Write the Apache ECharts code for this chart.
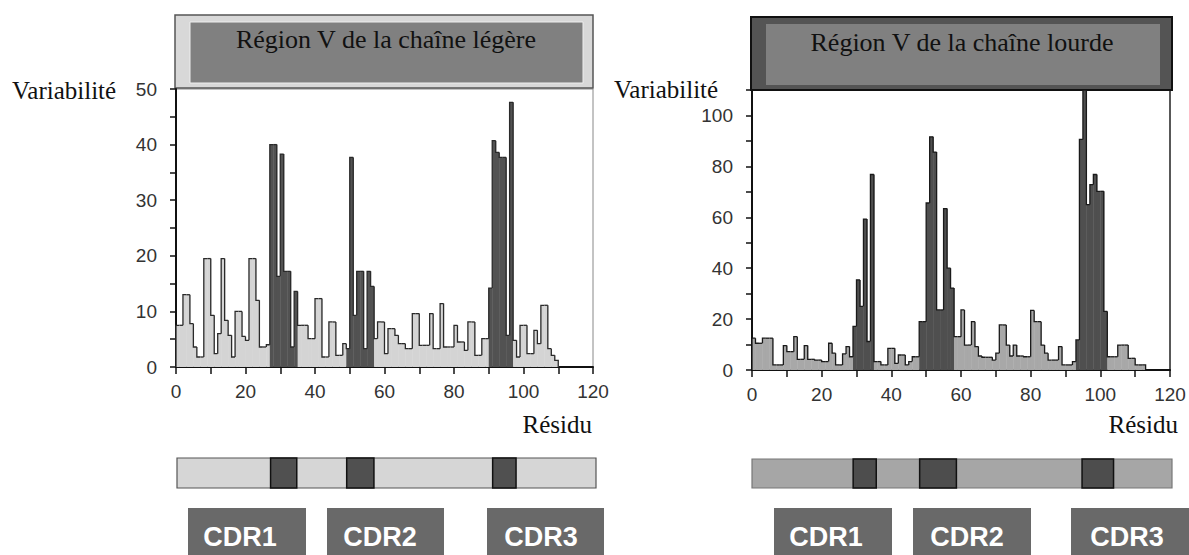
<!DOCTYPE html>
<html><head><meta charset="utf-8">
<script src="https://cdn.jsdelivr.net/npm/echarts@6/dist/echarts.min.js"></script>
<style>html,body{margin:0;padding:0;background:#fff}#c{width:1189px;height:555px}</style>
</head><body><div id="c"></div>
<script>
// ---------- DATA ----------
// Variability per residue (residue i covers axis interval [i, i+1])
const lightChainVariability = [
  7.5,7.5,13,13,7.8,3.6,1.8,1.8,19.5,19.5,
  9.3,2.4,6,19.5,8.4,5.7,1.8,10,10,5.5,
  4.8,19.5,19.5,12,3.6,3.6,4,40,40,16.3,
  38.3,17.2,17.2,3.6,13.6,7.5,7.5,7.5,5.1,5.1,
  12.3,12.3,1.8,1.8,8.1,8.1,2.1,2.1,4.2,3.3,
  37.7,9.3,17.2,17.2,3.3,17.2,14.5,5.1,8.1,8.1,
  2.4,6.9,6.9,5.7,4.2,4.2,3.3,3.3,9.6,9.6,
  3.9,3.9,3.9,9.6,3.3,3.3,11.4,3.6,3.6,3.6,
  7.5,4.5,4.5,3,8.1,8.1,2.1,2.1,5.1,5.1,
  14.2,40.7,38.6,37.7,37.7,5.7,47.6,4.8,1.8,7.5,
  7.5,2.4,2.4,6.6,4.2,11.1,11.1,3.3,2.1,1.2
];
const heavyChainVariability = [
  12.5,10.5,10.5,12.5,12.5,12.5,2,2,2,9.6,
  7.2,7.2,13.1,4.2,4.2,9.6,4.2,4.2,3.9,3.9,
  3.3,3.3,10.5,6.6,2,2,6.3,9.2,5.2,17.1,
  35.4,25,59.3,11.2,76.8,3.3,3.3,2,2,8.5,
  8.5,2.6,5.9,5.9,2,3.3,5.2,5.2,19,19,
  65.6,91.6,85.6,23.6,23.6,63.4,40,32.2,13.1,13.1,
  23.6,9.8,9.8,19,9.2,5.5,5,5,5,3.9,
  6.6,17.7,17.7,9.8,5.5,9.8,5.5,5.5,5.2,5.2,
  23.4,19,19,9.8,6.6,3.9,3.9,3.9,9.2,2,
  2,2,3.3,11.8,90.6,110,65,72.8,76.8,70.2,
  70.2,23,5.2,5.2,5.2,9.8,9.8,9.8,4.6,4.6,
  2,2,2
];
// CDR spans on the residue axis (start, end)
const lightChainCdrRanges = [[27,35],[49,57],[90,97]];
const heavyChainCdrRanges = [[29,35],[48,58],[93,102]];
// CDR spans on the schematic strips below the charts
const lightStripCdrRanges = [[26.8,34.3],[48.6,56.4],[90.4,97.1]];
const heavyStripCdrRanges = [[28.9,35.5],[47.9,58.4],[94.3,103.3]];
const cdrLabels = ['CDR1','CDR2','CDR3'];
const titles = ['Région V de la chaîne légère','Région V de la chaîne lourde'];
const yAxisName = 'Variabilité';
const xAxisName = 'Résidu';

// ---------- CHART ----------
const chart = echarts.init(document.getElementById('c'), null, {renderer:'svg'});
const SERIF = "'Liberation Serif','Times New Roman',serif";
const SANS = "'Liberation Sans',Arial,sans-serif";

function histogramData(values, ranges) {
  return values.map((v, i) => [i, v, i > 0 ? values[i-1] : 0,
    ranges.some(r => i >= r[0] && i < r[1]) ? 1 : 0, i === values.length - 1 ? 1 : 0]);
}
function histogramRender(lightFill, darkFill, lineColor) {
  return function (params, api) {
    const x = api.value(0), v = api.value(1), pv = api.value(2), dark = api.value(3), last = api.value(4);
    const base = api.coord([x, 0]);
    const top = api.coord([x + 1, v]);
    const prev = api.coord([x, pv]);
    const pts = [[base[0], prev[1]], [base[0], top[1]], [top[0], top[1]]];
    if (last) pts.push([top[0], base[1]]);
    return {type:'group', children:[
      {type:'rect', shape:{x:base[0], y:top[1], width:top[0]-base[0]+0.4, height:base[1]-top[1]},
       style:{fill: dark ? darkFill : lightFill}},
      {type:'polyline', shape:{points:pts}, style:{stroke:lineColor, lineWidth:1.3, fill:'none'}}
    ]};
  };
}
function stripData(ranges) {
  return [[0, 120, 0]].concat(ranges.map(r => [r[0], r[1], 1]));
}
function stripRender(baseFill, baseStroke, darkFill) {
  return function (params, api) {
    const a = api.coord([api.value(0), 1]);
    const b = api.coord([api.value(1), 0]);
    const dark = api.value(2);
    return {type:'rect', shape:{x:a[0], y:a[1], width:b[0]-a[0], height:b[1]-a[1]},
      style:{fill: dark ? darkFill : baseFill, stroke: dark ? '#111' : baseStroke, lineWidth: dark ? 1.5 : 1.2}};
  };
}

const tickLabel = {color:'#333', fontSize:19, fontFamily:SANS};
function xAxisCfg(gi) {
  return {type:'value', gridIndex:gi, min:0, max:120, interval:10,
    axisLine:{show:true, onZero:false, lineStyle:{color:'#111', width:2}},
    axisTick:{show:true, length:7, lineStyle:{color:'#111', width:1.5}},
    axisLabel:Object.assign({margin:15, formatter:v => (v % 20 === 0 ? String(v) : '')}, tickLabel),
    splitLine:{show:false}};
}
function yAxisCfg(gi, max, step, labelStep) {
  return {type:'value', gridIndex:gi, min:0, max:max, interval:step,
    axisLine:{show:true, lineStyle:{color:'#111', width:2}},
    axisTick:{show:true, length:6, lineStyle:{color:'#111', width:1.5}},
    axisLabel:Object.assign({margin:19, showMaxLabel:true, formatter:v => (v % labelStep === 0 ? String(v) : '')}, tickLabel),
    splitLine:{show:false}};
}
function hiddenAxis(type, gi, min, max) {
  return {type:type, gridIndex:gi, min:min, max:max, show:false};
}

function cdrBox(x, w, tx, label) {
  return {type:'group', children:[
    {type:'rect', shape:{x:x, y:508, width:w, height:52}, style:{fill:'#696969'}},
    {type:'text', x:tx, y:537, style:{text:label, fill:'#fff', font:"bold 27px " + SANS,
      textAlign:'center', textVerticalAlign:'middle'}}
  ]};
}

chart.setOption({
  animation:false,
  backgroundColor:'#fff',
  grid:[
    {left:176, right:596, top:89, bottom:188, show:true, borderColor:'#888', borderWidth:1, backgroundColor:'transparent'},
    {left:752, right:19, top:90, bottom:185, show:true, borderColor:'#222', borderWidth:1.5, backgroundColor:'transparent'},
    {left:177, right:593, top:458, height:30},
    {left:752, right:17, top:459, height:29}
  ],
  xAxis:[xAxisCfg(0), xAxisCfg(1), hiddenAxis('value',2,0,120), hiddenAxis('value',3,0,120)],
  yAxis:[yAxisCfg(0, 50, 5, 10), yAxisCfg(1, 110, 10, 20), hiddenAxis('value',2,0,1), hiddenAxis('value',3,0,1)],
  series:[
    {type:'custom', name:'light', xAxisIndex:0, yAxisIndex:0, silent:true,
     encode:{x:0, y:1}, data:histogramData(lightChainVariability, lightChainCdrRanges),
     renderItem:histogramRender('#d4d4d4', '#525252', '#2a2a2a')},
    {type:'custom', name:'heavy', xAxisIndex:1, yAxisIndex:1, silent:true, clip:true,
     encode:{x:0, y:1}, data:histogramData(heavyChainVariability, heavyChainCdrRanges),
     renderItem:histogramRender('#a8a8a8', '#4f4f4f', '#1a1a1a')},
    {type:'custom', name:'lightStrip', xAxisIndex:2, yAxisIndex:2, silent:true,
     encode:{x:[0,1], y:2}, data:stripData(lightStripCdrRanges),
     renderItem:stripRender('#d6d6d6', '#555', '#505050')},
    {type:'custom', name:'heavyStrip', xAxisIndex:3, yAxisIndex:3, silent:true,
     encode:{x:[0,1], y:2}, data:stripData(heavyStripCdrRanges),
     renderItem:stripRender('#a6a6a6', '#777', '#4d4d4d')}
  ],
  graphic:[
    // left title box
    {type:'rect', shape:{x:175, y:15, width:418, height:73}, style:{fill:'#d8d8d8', stroke:'#555', lineWidth:1.5}},
    {type:'rect', shape:{x:190, y:22, width:393, height:61}, style:{fill:'#808080', stroke:'#eeeeee', lineWidth:1}},
    {type:'text', x:386, y:39, style:{text:titles[0], fill:'#111', font:"26px " + SERIF, textAlign:'center', textVerticalAlign:'middle'}},
    // right title box
    {type:'rect', shape:{x:751, y:17, width:421, height:73}, style:{fill:'#545454', stroke:'#111', lineWidth:2}},
    {type:'rect', shape:{x:766, y:24, width:394, height:61}, style:{fill:'#808080'}},
    {type:'text', x:962, y:42, style:{text:titles[1], fill:'#111', font:"26px " + SERIF, textAlign:'center', textVerticalAlign:'middle'}},
    // axis names
    {type:'text', x:12, y:90, style:{text:yAxisName, fill:'#111', font:"25px " + SERIF, textAlign:'left', textVerticalAlign:'middle'}},
    {type:'text', x:614, y:89, style:{text:yAxisName, fill:'#111', font:"25px " + SERIF, textAlign:'left', textVerticalAlign:'middle'}},
    {type:'text', x:592, y:424, style:{text:xAxisName, fill:'#111', font:"25px " + SERIF, textAlign:'right', textVerticalAlign:'middle'}},
    {type:'text', x:1178, y:424, style:{text:xAxisName, fill:'#111', font:"25px " + SERIF, textAlign:'right', textVerticalAlign:'middle'}},
    // CDR label boxes
    cdrBox(188, 118, 240, cdrLabels[0]),
    cdrBox(327, 117, 380, cdrLabels[1]),
    cdrBox(487, 117, 541, cdrLabels[2]),
    cdrBox(774, 118, 826, cdrLabels[0]),
    cdrBox(913, 118, 967, cdrLabels[1]),
    cdrBox(1071, 119, 1127, cdrLabels[2])
  ]
});
</script>
</body></html>
